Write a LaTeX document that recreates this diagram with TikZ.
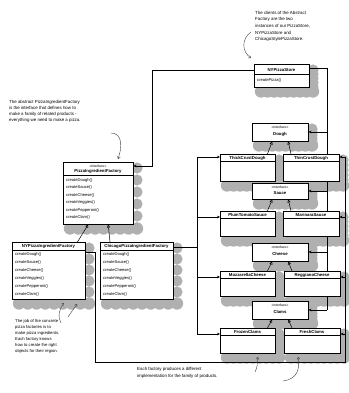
\documentclass[tikz,border=0pt]{standalone}
\usepackage{fontspec}
\setmainfont{Liberation Sans}
\usetikzlibrary{arrows.meta,calc}
\pgfdeclarelayer{shadowlayer}
\pgfdeclarelayer{linelayer}
\pgfsetlayers{shadowlayer,linelayer,main}
\newcommand\blobshadow[4]{%
  \foreach \t in {0,0.125,...,1.001}{\fill[shade] ({#1+7+(#3-#1-3)*\t},{#4+4.5}) circle (6.2);}
  \foreach \t in {0,0.2,...,1.001}{\fill[shade] ({#3+4},{#2+6+(#4-#2-2)*\t}) circle (5.6);}
}
\begin{document}
\begin{tikzpicture}[x=1pt,y=-1pt,
  box/.style={draw=black,line width=0.45pt,fill=white,anchor=north west,inner sep=0pt},
  lbl/.style={font=\fontsize{4.3}{5}\selectfont,inner sep=0pt},
  hdr/.style={font=\fontsize{4.3}{5}\selectfont\bfseries,inner sep=0pt},
  ster/.style={font=\fontsize{3.4}{4}\selectfont,inner sep=0pt},
  meth/.style={font=\fontsize{4.1}{5}\selectfont,inner sep=0pt,anchor=west},
  note/.style={font=\fontsize{4.4}{6.6}\selectfont,align=left,anchor=north west,inner sep=0pt},
  conn/.style={line width=0.5pt},
  arr/.style={line width=0.5pt,-{Stealth[length=3pt,width=2.6pt]}},
  impl/.style={line width=0.5pt,-{Triangle[open,length=3pt,width=3pt]}},
  hand/.style={line width=0.4pt,black!75,-{Straight Barb[length=2pt,width=3pt]}},
  shade/.style={fill=gray!62},
  div/.style={line width=0.4pt}]
\useasboundingbox (0,0) rectangle (348,393);

% ---------- shadows ----------
\begin{pgfonlayer}{shadowlayer}
\blobshadow{254}{64}{309}{87}
\blobshadow{63}{162}{133}{224}
\blobshadow{12}{242}{85}{299}
\blobshadow{100}{242}{173}{299}
\blobshadow{252}{123}{308}{141}
\blobshadow{220}{154}{275}{181}
\blobshadow{283}{154}{339}{181}
\blobshadow{252}{183}{308}{199}
\blobshadow{220}{211}{275}{236}
\blobshadow{283}{211}{339}{236}
\blobshadow{252}{243}{308}{261}
\blobshadow{220}{271}{275}{296}
\blobshadow{284}{271}{340}{296}
\blobshadow{252}{301}{308}{319}
\blobshadow{220}{328}{275}{353}
\blobshadow{284}{328}{340}{353}
\end{pgfonlayer}

% ---------- boxes ----------
\node[box,minimum width=55pt,minimum height=23pt] (store) at (254,64) {};
\node[box,minimum width=70pt,minimum height=62pt] (pif) at (63,162) {};
\node[box,minimum width=73pt,minimum height=57pt] (nyf) at (12,242) {};
\node[box,minimum width=73pt,minimum height=57pt] (chf) at (100,242) {};
\node[box,minimum width=55pt,minimum height=27pt] (thick) at (220,154) {};
\node[box,minimum width=56pt,minimum height=27pt] (thin) at (283,154) {};
\node[box,minimum width=55pt,minimum height=25pt] (plum) at (220,211) {};
\node[box,minimum width=56pt,minimum height=25pt] (mari) at (283,211) {};
\node[box,minimum width=55pt,minimum height=25pt] (mozz) at (220,271) {};
\node[box,minimum width=56pt,minimum height=25pt] (regg) at (284,271) {};
\node[box,minimum width=55pt,minimum height=25pt] (frozen) at (220,328) {};
\node[box,minimum width=56pt,minimum height=25pt] (fresh) at (284,328) {};
\node[box,minimum width=56pt,minimum height=18pt] (idough) at (252,123) {};
\node[box,minimum width=56pt,minimum height=16pt] (isauce) at (252,183) {};
\node[box,minimum width=56pt,minimum height=18pt] (icheese) at (252,243) {};
\node[box,minimum width=56pt,minimum height=18pt] (iclams) at (252,301) {};

% ---------- box texts ----------
\node[hdr] (tstore) at (281.5,69.5) {NYPizzaStore};
\draw[div] (254,74) -- (309,74);
\node[meth] (tstore1) at (257,80) {createPizza()};

\node[ster] (tpif0) at (98,166.5) {«interface»};
\node[hdr] (tpif) at (98,171.5) {PizzaIngredientFactory};
\draw[div] (63,175.5) -- (133,175.5);
\node[meth] (p1) at (66,180) {createDough()};
\node[meth] (p2) at (66,187.5) {createSauce()};
\node[meth] (p3) at (66,195) {createCheese()};
\node[meth] (p4) at (66,202.5) {createVeggies()};
\node[meth] (p5) at (66,210) {createPepperoni()};
\node[meth] (p6) at (66,217.5) {createClam()};

\node[hdr] (tnyf) at (48.5,246) {NYPizzaIngredientFactory};
\draw[div] (12,250) -- (85,250);
\node[meth] (n1) at (15,254.5) {createDough()};
\node[meth] (n2) at (15,262.5) {createSauce()};
\node[meth] (n3) at (15,270.5) {createCheese()};
\node[meth] (n4) at (15,278.5) {createVeggies()};
\node[meth] (n5) at (15,286.5) {createPepperoni()};
\node[meth] (n6) at (15,294.5) {createClam()};

\node[hdr] (tchf) at (136.5,246) {ChicagoPizzaIngredientFactory};
\draw[div] (100,250) -- (173,250);
\node[meth] (c1) at (103,254.5) {createDough()};
\node[meth] (c2) at (103,262.5) {createSauce()};
\node[meth] (c3) at (103,270.5) {createCheese()};
\node[meth] (c4) at (103,278.5) {createVeggies()};
\node[meth] (c5) at (103,286.5) {createPepperoni()};
\node[meth] (c6) at (103,294.5) {createClam()};

\node[ster] (td0) at (280,127.5) {«interface»};
\node[hdr] (td) at (280,134) {Dough};
\node[ster] (ts0) at (280,187) {«interface»};
\node[hdr] (ts) at (280,193) {Sauce};
\node[ster] (tc0) at (280,247.5) {«interface»};
\node[hdr] (tc) at (280,254) {Cheese};
\node[ster] (tk0) at (280,305.5) {«interface»};
\node[hdr] (tk) at (280,312) {Clams};

\node[hdr] (t1) at (247.5,158) {ThickCrustDough};
\draw[div] (220,161.5) -- (275,161.5);
\node[hdr] (t2) at (311,158) {ThinCrustDough};
\draw[div] (283,161.5) -- (339,161.5);
\node[hdr] (t3) at (247.5,215) {PlumTomatoSauce};
\draw[div] (220,218.5) -- (275,218.5);
\node[hdr] (t4) at (311,215) {MarinaraSauce};
\draw[div] (283,218.5) -- (339,218.5);
\node[hdr] (t5) at (247.5,275) {MozzarellaCheese};
\draw[div] (220,278.5) -- (275,278.5);
\node[hdr] (t6) at (312,275) {ReggianoCheese};
\draw[div] (284,278.5) -- (340,278.5);
\node[hdr] (t7) at (247.5,332) {FrozenClams};
\draw[div] (220,335.5) -- (275,335.5);
\node[hdr] (t8) at (312,332) {FreshClams};
\draw[div] (284,335.5) -- (340,335.5);

% ---------- connectors ----------
\begin{pgfonlayer}{linelayer}
\coordinate (sa) at (152,70);
\coordinate (sb) at (152,166);
\draw[arr] ($(store.north west)+(0,6)$) -- (sa) -- (sb) -- (sb -| pif.east);

\coordinate (ra) at (327,68);
\coordinate (rb) at (327,310);
\draw[conn] ($(store.north east)+(0,4)$) -- (ra) -- (rb);
\draw[arr] (327,132) -- (idough.east |- 0,132);
\draw[arr] (327,191) -- (isauce.east |- 0,191);
\draw[arr] (327,252) -- (icheese.east |- 0,252);
\draw[arr] (rb) -- (iclams.east |- rb);

\coordinate (ca) at (197,247);
\coordinate (cb) at (197,157);
\coordinate (cc) at (197,334);
\draw[conn] (chf.east |- ca) -- (ca);
\draw[conn] (cb) -- (cc);
\draw[arr] (cb) -- (thick.west |- cb);
\draw[arr] (197,217) -- (plum.west |- 0,217);
\draw[arr] (197,277) -- (mozz.west |- 0,277);
\draw[arr] (cc) -- (frozen.west |- cc);

\coordinate (na) at (95,252);
\coordinate (nb) at (95,362);
\coordinate (nc) at (345,362);
\coordinate (nd) at (345,157);
\draw[conn] (nyf.east |- na) -- (na) -- (nb) -- (nc) -- (nd);
\draw[arr] (nd) -- (thin.east |- nd);
\draw[arr] (345,217) -- (mari.east |- 0,217);
\draw[arr] (345,277) -- (regg.east |- 0,277);
\draw[arr] (345,334) -- (fresh.east |- 0,334);

\draw[impl] ($(nyf.north east)+(-8,0)$) -- ($(pif.south)+(-10,0)$);
\draw[impl] ($(chf.north west)+(10,0)$) -- ($(pif.south)+(10,0)$);
\draw[impl] ($(thick.north east)+(-8,0)$) -- ($(idough.south)+(-8,0)$);
\draw[impl] ($(thin.north west)+(8,0)$) -- ($(idough.south)+(8,0)$);
\draw[impl] ($(plum.north east)+(-8,0)$) -- ($(isauce.south)+(-8,0)$);
\draw[impl] ($(mari.north west)+(8,0)$) -- ($(isauce.south)+(8,0)$);
\draw[impl] ($(mozz.north east)+(-8,0)$) -- ($(icheese.south)+(-8,0)$);
\draw[impl] ($(regg.north west)+(8,0)$) -- ($(icheese.south)+(8,0)$);
\draw[impl] ($(frozen.north east)+(-8,0)$) -- ($(iclams.south)+(-8,0)$);
\draw[impl] ($(fresh.north west)+(8,0)$) -- ($(iclams.south)+(8,0)$);
\end{pgfonlayer}

% ---------- notes ----------
\node[note] (n_top) at (255,11) {The clients of the Abstract\\Factory are the two\\instances of our PizzaStore,\\NYPizzaStore and\\ChicagoStylePizzaStore.};
\draw[hand] (251,32) .. controls (241,39) and (242,52) .. (251,58);

\node[note,font=\fontsize{4.4}{6}\selectfont] (n_left) at (9,100) {The abstract PizzaIngredientFactory\\is the interface that defines how to\\make a family of related products -\\everything we need to make a pizza.};
\draw[hand] (111,133) .. controls (123,133) and (122,148) .. (118,159);

\node[note,font=\fontsize{4.2}{6}\selectfont] (n_bl) at (15,319) {The job of the concrete\\pizza factories is to\\make pizza ingredients.\\Each factory knows\\how to create the right\\objects for their region.};
\draw[hand] (61,323) .. controls (57,315) and (60,308) .. (64,303);
\draw[hand] (68,317) -- (77,304);

\node[note,font=\fontsize{4.4}{7}\selectfont] (n_br) at (137,367) {Each factory produces a different\\implementation for the family of products.};
\draw[hand] (255,372) .. controls (258,367) and (257,362) .. (258,357);
\draw[hand] (283,381) .. controls (298,379) and (300,368) .. (298,357);
\end{tikzpicture}
\end{document}
